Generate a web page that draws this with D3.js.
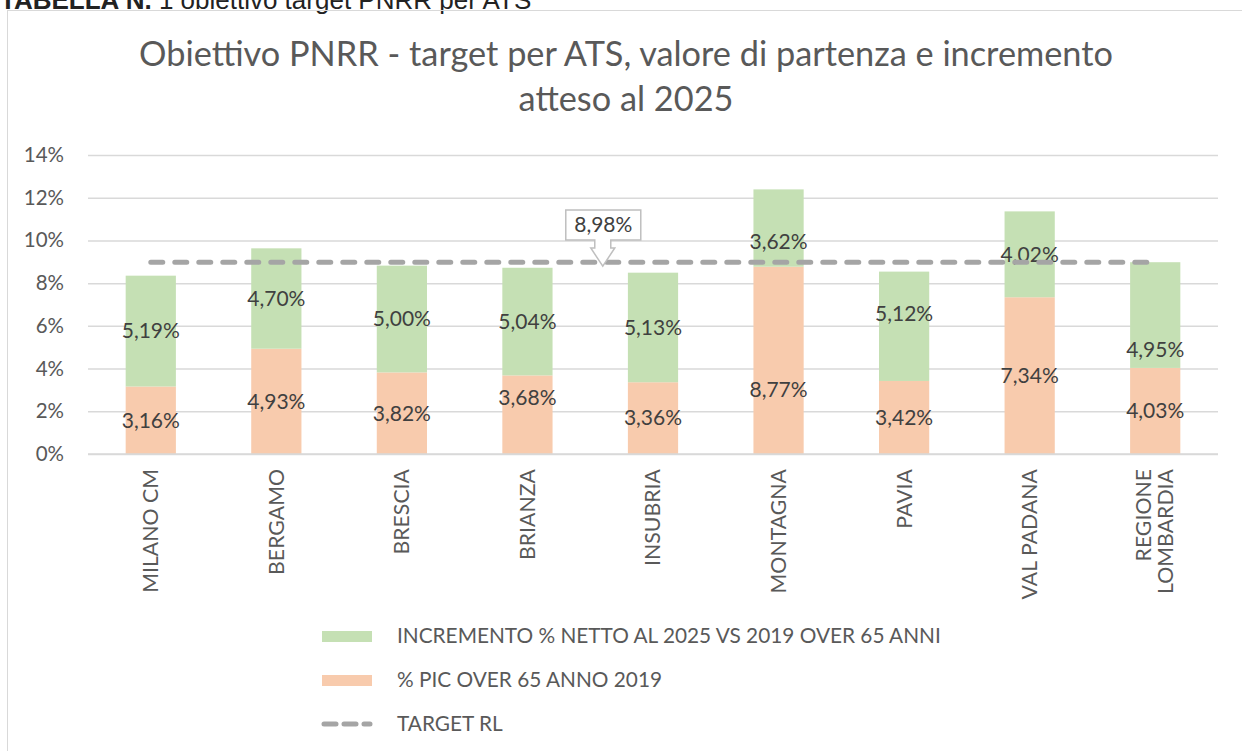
<!DOCTYPE html>
<html>
<head>
<meta charset="utf-8">
<script src="https://cdn.jsdelivr.net/npm/d3@7"></script>
<style>
	body { margin: 0; background: #fff; }
	svg { display: block; font-family: Lato, "Open Sans", sans-serif; }
</style>
</head>
<body>
<div id="chart"></div>
<script>
const categories = ["MILANO CM", "BERGAMO", "BRESCIA", "BRIANZA", "INSUBRIA", "MONTAGNA", "PAVIA", "VAL PADANA", "REGIONE LOMBARDIA"];
const pic2019 = [3.16, 4.93, 3.82, 3.68, 3.36, 8.77, 3.42, 7.34, 4.03];
const incremento = [5.19, 4.70, 5.00, 5.04, 5.13, 3.62, 5.12, 4.02, 4.95];
const target = 8.98;
const yTicks = [0, 2, 4, 6, 8, 10, 12, 14];
// small manual nudges of the labels (px), as in the original
const nudgeGreen = [0, 0, 0, 0, 0, 14, -13, 0, 35];
const nudgeOrange = [0, 0, 0, -17, 0, 29, 0, 0, 0];

const width = 1242, height = 751;
const margin = {top: 155, right: 24, bottom: 297, left: 88};
const fmt = v => d3.format(".2f")(v).replace(".", ",") + "%";

let svg = d3.select("#chart").append("svg")
	.attr("width", width)
	.attr("height", height);

// header text, cut off at the top (as in the source)
let header = svg.append("text")
	.attr("x", 0)
	.attr("y", 9)
	.attr("font-family", "Liberation Sans, Arial, sans-serif")
	.attr("font-size", 26)
	.attr("fill", "#222");
header.append("tspan").attr("font-weight", "bold").text("TABELLA N. ");
header.append("tspan").text("1 obiettivo target PNRR per ATS");

// chart area border
svg.append("rect")
	.attr("x", 7.5).attr("y", 10.5)
	.attr("width", 1260).attr("height", 800)
	.attr("fill", "none")
	.attr("stroke", "#d9d9d9");

svg.append("text")
	.attr("x", 626).attr("y", 66)
	.attr("text-anchor", "middle")
	.attr("font-size", 34.3)
	.attr("fill", "#595959")
	.text("Obiettivo PNRR - target per ATS, valore di partenza e incremento");
svg.append("text")
	.attr("x", 626).attr("y", 111)
	.attr("text-anchor", "middle")
	.attr("font-size", 34.3)
	.attr("fill", "#595959")
	.text("atteso al 2025");

let x = d3.scaleBand()
	.domain(categories)
	.range([margin.left, width - margin.right])
	.paddingInner(0.6)
	.paddingOuter(0.3);

let y = d3.scaleLinear()
	.domain([0, 14])
	.range([height - margin.bottom, margin.top]);

// gridlines + y labels
let yAxis = svg.append("g")
	.attr("class", "axis y")
	.attr("transform", `translate(${margin.left}, 0)`)
	.call(d3.axisLeft(y).tickValues(yTicks).tickSize(-(width - margin.left - margin.right)).tickPadding(24).tickFormat(d => d + "%"));
yAxis.select(".domain").remove();
yAxis.selectAll(".tick line").attr("stroke", "#d9d9d9").attr("stroke-width", 1.5);
yAxis.selectAll(".tick text")
	.attr("font-size", 20.5)
	.attr("font-family", "Lato, sans-serif")
	.attr("fill", "#595959");

let bars = svg.selectAll(".bar")
	.data(categories)
	.enter().append("g")
	.attr("class", "bar");

bars.append("rect")
	.attr("x", d => x(d))
	.attr("width", x.bandwidth())
	.attr("y", (d, i) => y(pic2019[i]))
	.attr("height", (d, i) => y(0) - y(pic2019[i]))
	.attr("fill", "#f8cbad");

bars.append("rect")
	.attr("x", d => x(d))
	.attr("width", x.bandwidth())
	.attr("y", (d, i) => y(pic2019[i] + incremento[i]))
	.attr("height", (d, i) => y(pic2019[i]) - y(pic2019[i] + incremento[i]))
	.attr("fill", "#c5e0b4");

// x baseline
svg.append("line")
	.attr("x1", margin.left).attr("x2", width - margin.right)
	.attr("y1", y(0)).attr("y2", y(0))
	.attr("stroke", "#d9d9d9").attr("stroke-width", 1.5);

// target line
let cx = d => x(d) + x.bandwidth() / 2;
svg.append("line")
	.attr("x1", cx(categories[0]))
	.attr("x2", cx(categories[categories.length - 1]))
	.attr("y1", y(target)).attr("y2", y(target))
	.attr("stroke", "#a5a5a5")
	.attr("stroke-width", 5)
	.attr("stroke-linecap", "round")
	.attr("stroke-dasharray", "12,12");

// data labels
bars.append("text")
	.attr("x", d => cx(d))
	.attr("y", (d, i) => y(pic2019[i] + incremento[i] / 2) + nudgeGreen[i])
	.attr("dy", "0.35em")
	.attr("text-anchor", "middle")
	.attr("font-size", 21)
	.attr("fill", "#404040")
	.text((d, i) => fmt(incremento[i]));

bars.append("text")
	.attr("x", d => cx(d))
	.attr("y", (d, i) => y(pic2019[i] / 2) + nudgeOrange[i])
	.attr("dy", "0.35em")
	.attr("text-anchor", "middle")
	.attr("font-size", 21)
	.attr("fill", "#404040")
	.text((d, i) => fmt(pic2019[i]));

// target callout
let tipX = cx(categories[3]) + x.step() * 0.6;
let tipY = y(target) + 4;
let box = {l: tipX - 37, r: tipX + 38, t: 210, b: 240};
svg.append("path")
	.attr("d", `M${box.l},${box.t} H${box.r} V${box.b} H${tipX + 8} V${box.b + 8} H${tipX + 12} L${tipX},${tipY} L${tipX - 12},${box.b + 8} H${tipX - 8} V${box.b} H${box.l} Z`)
	.attr("fill", "#fff")
	.attr("stroke", "#bfbfbf")
	.attr("stroke-width", 1.5);
svg.append("text")
	.attr("x", (box.l + box.r) / 2)
	.attr("y", (box.t + box.b) / 2)
	.attr("dy", "0.35em")
	.attr("text-anchor", "middle")
	.attr("font-size", 21)
	.attr("fill", "#404040")
	.text(fmt(target));

// category labels, rotated
let catLabels = svg.selectAll(".cat")
	.data(categories)
	.enter().append("text")
	.attr("class", "cat")
	.attr("transform", d => `translate(${cx(d)}, ${y(0) + 15}) rotate(-90)`)
	.attr("text-anchor", "end")
	.attr("font-size", 21.3)
	.attr("fill", "#595959");

catLabels.each(function(d) {
	let words = d === "REGIONE LOMBARDIA" ? ["REGIONE", "LOMBARDIA"] : [d];
	let sel = d3.select(this);
	words.forEach((w, k) => {
		sel.append("tspan")
			.attr("x", 0)
			.attr("dy", words.length > 1 ? (k === 0 ? "-0.2em" : "1.05em") : "0.35em")
			.text(w);
	});
});

// legend
let legendItems = [
	{label: "INCREMENTO % NETTO AL 2025 VS 2019 OVER 65 ANNI", kind: "rect", color: "#c5e0b4"},
	{label: "% PIC OVER 65 ANNO 2019", kind: "rect", color: "#f8cbad"},
	{label: "TARGET RL", kind: "line", color: "#a5a5a5"}
];
let legend = svg.selectAll(".legend")
	.data(legendItems)
	.enter().append("g")
	.attr("class", "legend")
	.attr("transform", (d, i) => `translate(322, ${636 + i * 44})`);

legend.filter(d => d.kind === "rect").append("rect")
	.attr("x", 0).attr("y", -5)
	.attr("width", 50).attr("height", 11)
	.attr("fill", d => d.color);
legend.filter(d => d.kind === "line").append("line")
	.attr("x1", 2).attr("x2", 48)
	.attr("y1", 0).attr("y2", 0)
	.attr("stroke", d => d.color)
	.attr("stroke-width", 5)
	.attr("stroke-linecap", "round")
	.attr("stroke-dasharray", "12,8");

legend.append("text")
	.attr("x", 75)
	.attr("dy", "0.35em")
	.attr("font-size", 20.8)
	.attr("fill", "#595959")
	.text(d => d.label);
</script>
</body>
</html>
